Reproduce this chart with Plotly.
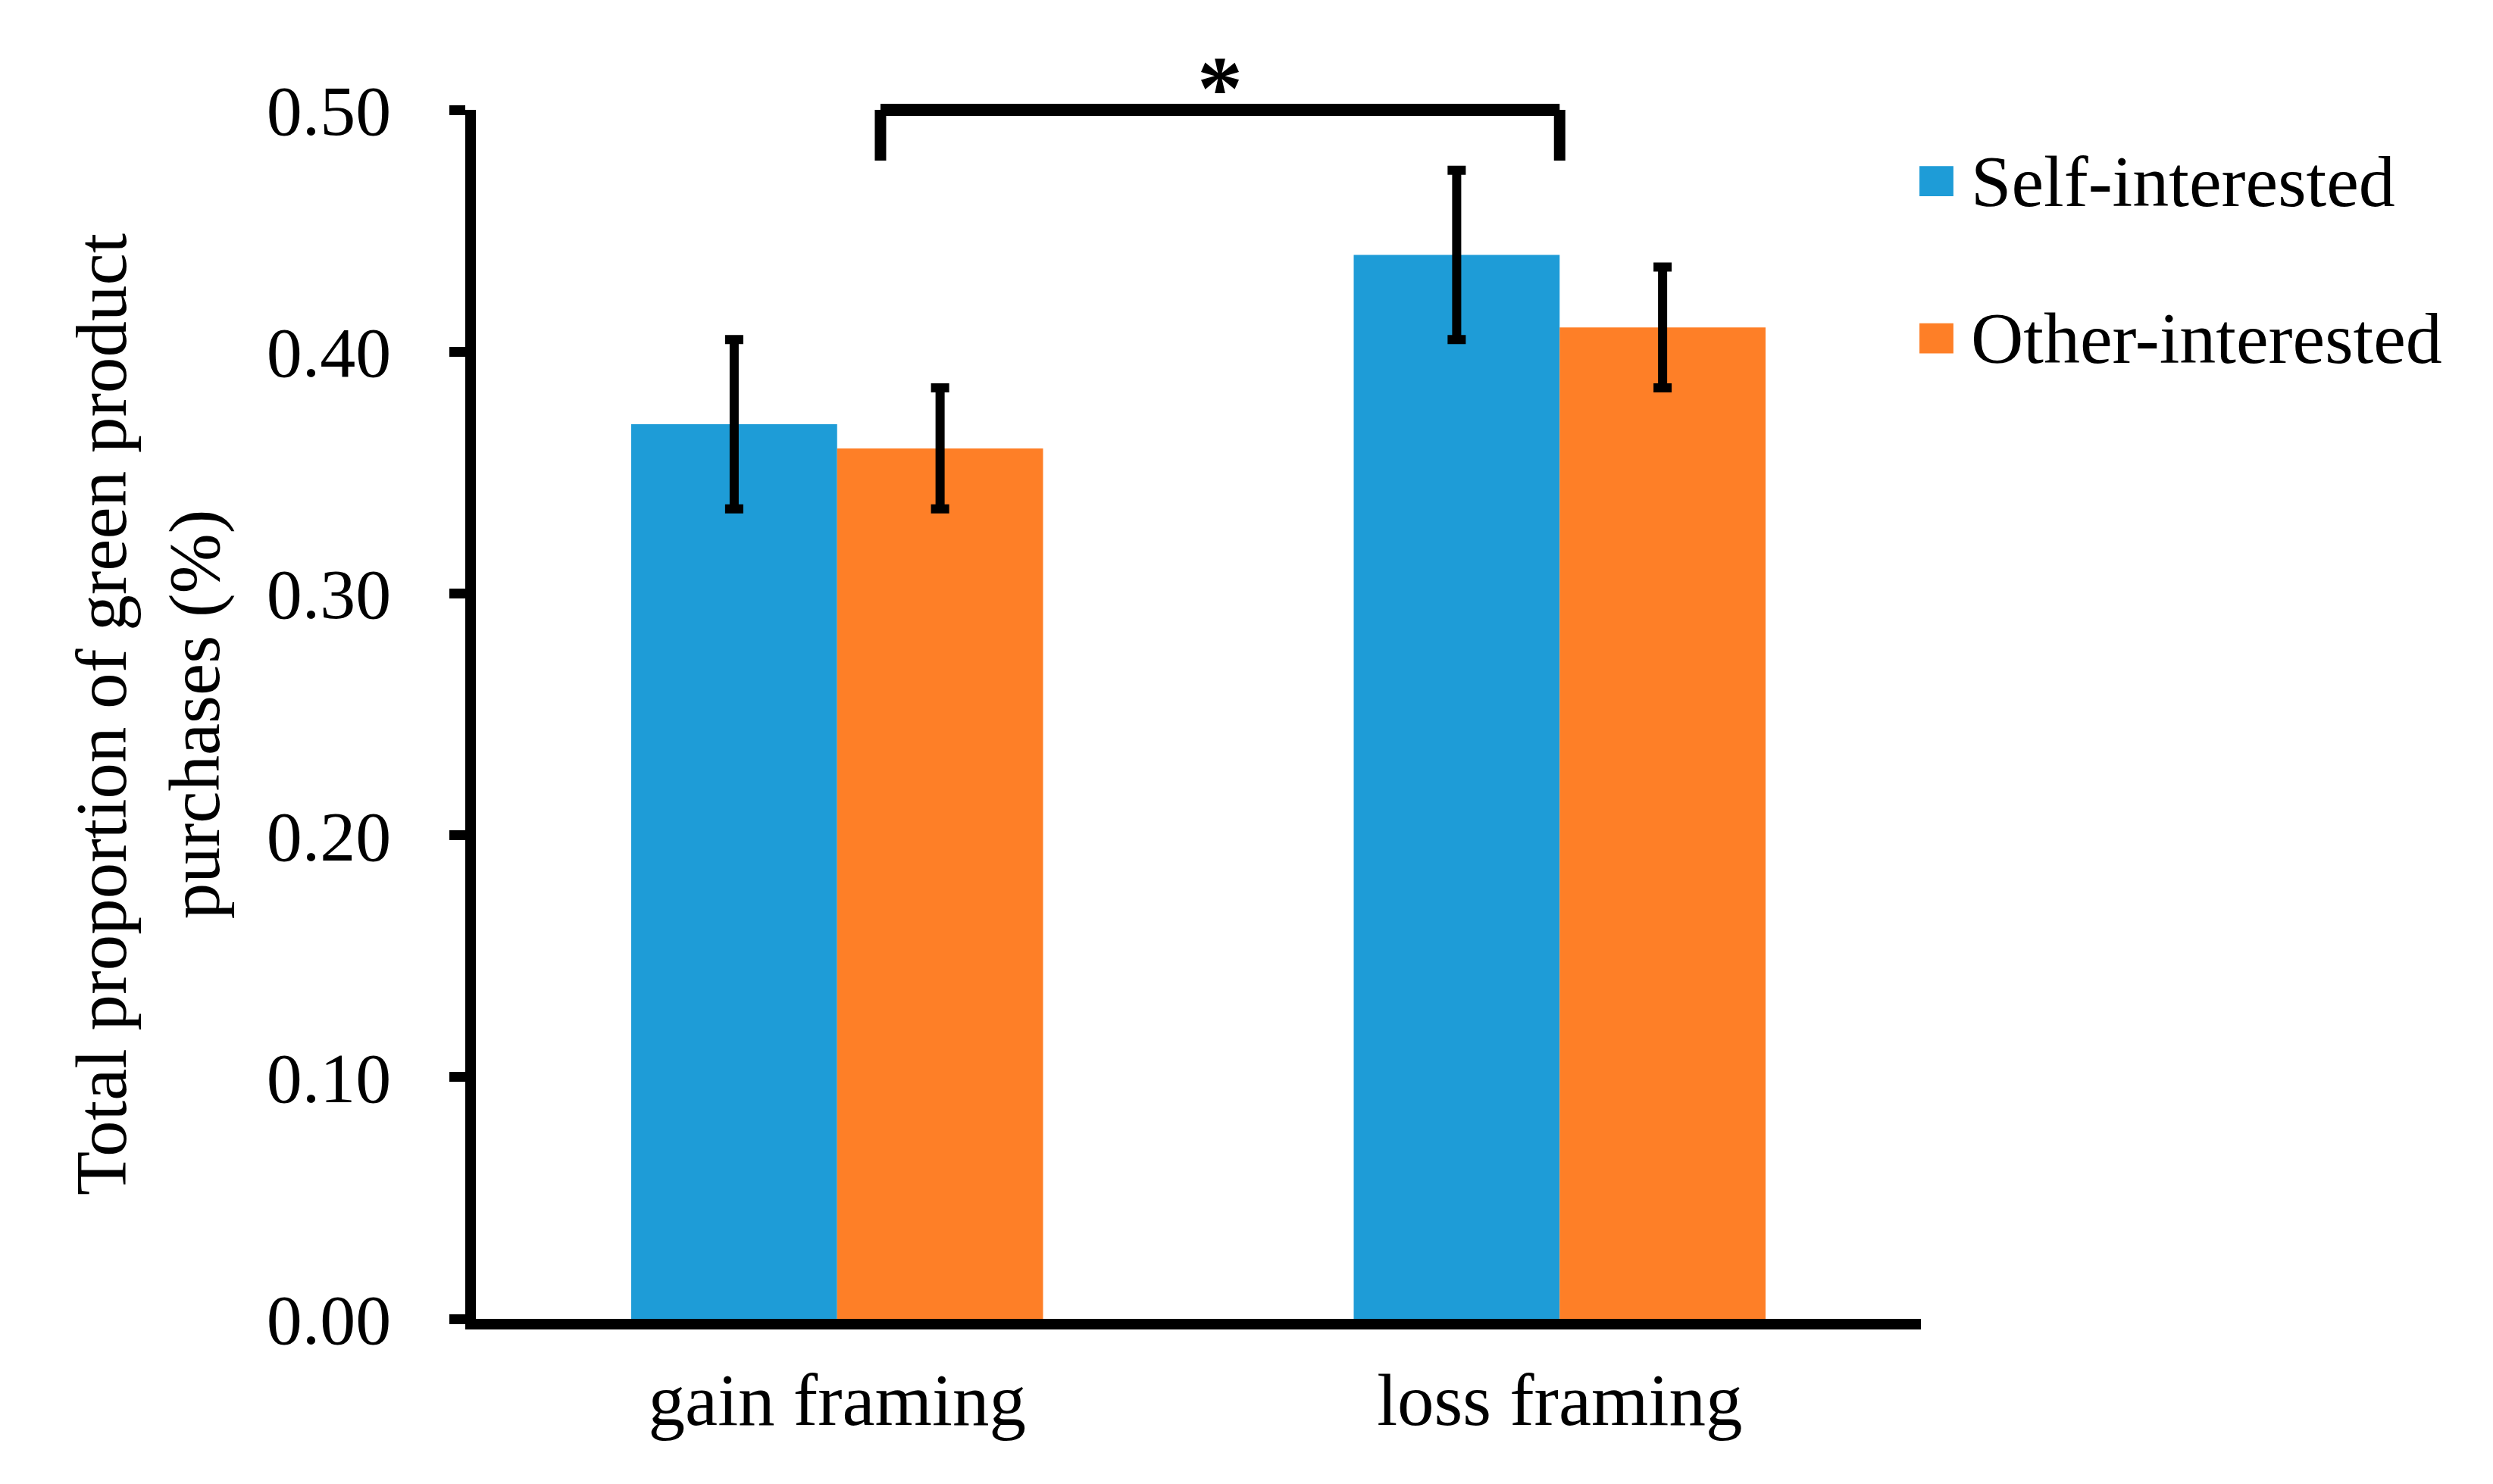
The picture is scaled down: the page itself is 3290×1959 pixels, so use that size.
import plotly.graph_objects as go

categories = ["gain framing", "loss framing"]
series_names = ["Self-interested", "Other-interested"]
self_vals = [0.37, 0.44]
other_vals = [0.36, 0.41]
self_err = [0.035, 0.035]
other_err = [0.025, 0.025]
y_ticks = [0.0, 0.1, 0.2, 0.3, 0.4, 0.5]
y_tick_labels = ["0.00", "0.10", "0.20", "0.30", "0.40", "0.50"]
colors = ["#1E9CD7", "#FE7F27"]

# significance bracket (category index positions, values)
bracket_x = [0.06, 1.0]
bracket_top = 0.50
bracket_leg = 0.479
sig_label = "*"

YMAX = 0.5
FONT = "Liberation Serif, Times New Roman, serif"

W, H = 3290, 1959
ML, MR, MT, MB = 620, 763, 137, 226

fig = go.Figure()
for name, vals, errs, col in [(series_names[0], self_vals, self_err, colors[0]),
                              (series_names[1], other_vals, other_err, colors[1])]:
    fig.add_trace(go.Bar(
        x=categories, y=vals, name=name,
        marker=dict(color=col, line=dict(width=0)),
        error_y=dict(type="data", array=errs, visible=True,
                     color="black", thickness=12, width=12),
        showlegend=False,
    ))

fig.update_layout(
    width=W, height=H, autosize=False,
    margin=dict(l=ML, r=MR, t=MT, b=MB),
    paper_bgcolor="white", plot_bgcolor="white",
    barmode="group", bargap=0.43, bargroupgap=0,
    font=dict(family=FONT, color="black", size=94),
)

fig.update_xaxes(
    type="category", range=[-0.5, 1.5],
    showline=True, linecolor="black", linewidth=14,
    ticks="", showgrid=False, zeroline=False,
    tickfont=dict(family=FONT, size=97, color="black"),
    ticklabelstandoff=10,
)
fig.update_yaxes(
    range=[0, YMAX], tickvals=y_ticks, ticktext=y_tick_labels,
    showline=True, linecolor="black", linewidth=14,
    ticks="outside", ticklen=21, tickwidth=13, tickcolor="black",
    showgrid=False, zeroline=False,
    tickfont=dict(family=FONT, size=94, color="black"),
    ticklabelstandoff=58,
    title=dict(text="Total proportion of green product<br>purchases (%)",
               font=dict(family=FONT, size=95, color="black"), standoff=36),
)

# bracket
fig.add_shape(type="line", xref="x", yref="paper",
              x0=bracket_x[0], x1=bracket_x[1],
              y0=bracket_top / YMAX, y1=bracket_top / YMAX,
              line=dict(color="black", width=16))
for bx in bracket_x:
    fig.add_shape(type="line", xref="x", yref="paper",
                  x0=bx, x1=bx, y0=bracket_leg / YMAX, y1=bracket_top / YMAX,
                  line=dict(color="black", width=15))
fig.add_annotation(x=(bracket_x[0] + bracket_x[1]) / 2, y=1.018, xref="x", yref="paper",
                   text="<b>" + sig_label + "</b>", showarrow=False,
                   font=dict(family=FONT, size=120, color="black"),
                   xanchor="center", yanchor="middle")

# manual legend
leg_centers = [0.941, 0.811]
half_h = 0.0125
for yc, name, col in zip(leg_centers, series_names, colors):
    fig.add_shape(type="rect", xref="paper", yref="paper",
                  x0=0.999, x1=1.0225, y0=yc - half_h, y1=yc + half_h,
                  fillcolor=col, line=dict(width=0))
    fig.add_annotation(x=1.0335, y=yc, xref="paper", yref="paper",
                       text=name, showarrow=False, xanchor="left", yanchor="middle",
                       font=dict(family=FONT, size=96, color="black"))

fig.write_html("out.html")
